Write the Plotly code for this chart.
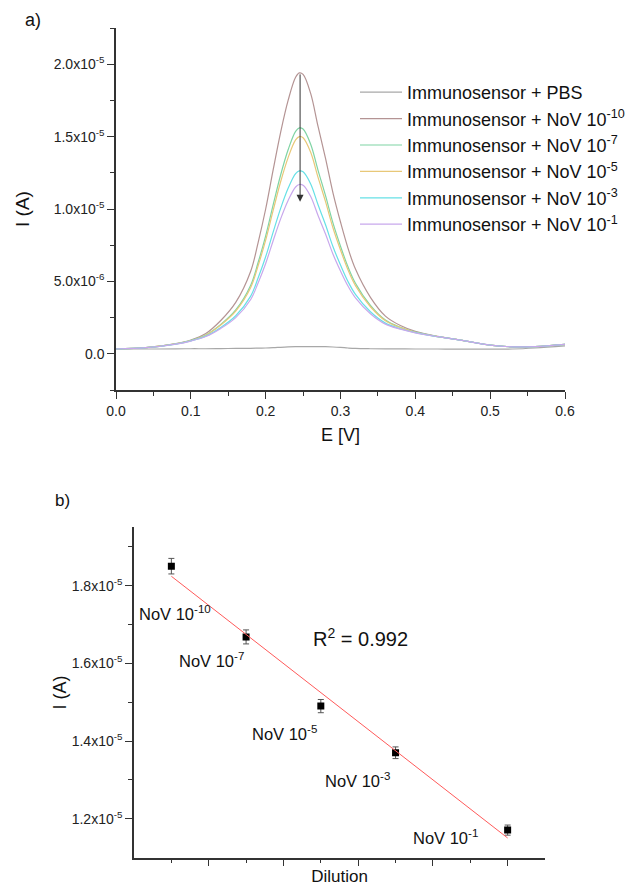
import numpy as np
import plotly.graph_objects as go

# ---------------- data: panel a (current in µA units, scaled to A) ----------------
E_V = [0.00, 0.04, 0.08, 0.10, 0.12, 0.14, 0.16, 0.18, 0.19, 0.20, 0.21, 0.22, 0.23, 0.24, 0.245,
       0.25, 0.26, 0.27, 0.28, 0.29, 0.30, 0.31, 0.32, 0.34, 0.36, 0.38, 0.40, 0.43, 0.46, 0.50,
       0.53, 0.56, 0.60]
pbs = [0.33, 0.33, 0.34, 0.35, 0.35, 0.36, 0.37, 0.38, 0.39, 0.40, 0.42, 0.45, 0.48, 0.50, 0.50,
       0.50, 0.50, 0.50, 0.49, 0.47, 0.44, 0.40, 0.37, 0.35, 0.34, 0.34, 0.33, 0.33, 0.32, 0.32,
       0.33, 0.40, 0.55]
nov_m10 = [0.33, 0.42, 0.70, 0.95, 1.40, 2.30, 3.55, 5.70, 7.70, 10.0, 12.7, 15.3, 17.5, 19.1, 19.4,
           19.3, 18.0, 15.7, 13.5, 11.1, 9.1, 7.3, 5.85, 3.9, 2.6, 1.95, 1.55, 1.20, 0.95, 0.60,
           0.48, 0.50, 0.65]
nov_m7 = [0.33, 0.42, 0.68, 0.92, 1.30, 2.03, 3.03, 4.74, 6.32, 8.15, 10.29, 12.35, 14.09, 15.36, 15.60,
          15.52, 14.49, 12.67, 10.92, 9.02, 7.43, 6.01, 4.87, 3.34, 2.33, 1.83, 1.50, 1.19, 0.95, 0.60,
          0.48, 0.50, 0.65]
nov_m5 = [0.33, 0.42, 0.68, 0.91, 1.28, 1.99, 2.95, 4.58, 6.10, 7.85, 9.90, 11.88, 13.55, 14.77, 15.00,
          14.92, 13.93, 12.18, 10.51, 8.69, 7.17, 5.80, 4.71, 3.25, 2.29, 1.81, 1.49, 1.19, 0.95, 0.60,
          0.48, 0.50, 0.65]
nov_m3 = [0.33, 0.42, 0.67, 0.89, 1.22, 1.82, 2.63, 3.98, 5.25, 6.70, 8.40, 10.04, 11.43, 12.44, 12.63,
          12.57, 11.75, 10.29, 8.91, 7.39, 6.13, 4.99, 4.10, 2.90, 2.12, 1.73, 1.46, 1.18, 0.95, 0.60,
          0.48, 0.50, 0.65]
nov_m1 = [0.33, 0.42, 0.67, 0.88, 1.19, 1.75, 2.50, 3.75, 4.91, 6.24, 7.81, 9.32, 10.59, 11.52, 11.69,
          11.64, 10.88, 9.55, 8.27, 6.88, 5.72, 4.68, 3.86, 2.77, 2.05, 1.70, 1.45, 1.18, 0.95, 0.60,
          0.48, 0.50, 0.65]
series_names = ["Immunosensor + PBS",
                "Immunosensor + NoV 10<sup>-10</sup>",
                "Immunosensor + NoV 10<sup>-7</sup>",
                "Immunosensor + NoV 10<sup>-5</sup>",
                "Immunosensor + NoV 10<sup>-3</sup>",
                "Immunosensor + NoV 10<sup>-1</sup>"]
series_vals = [pbs, nov_m10, nov_m7, nov_m5, nov_m3, nov_m1]
series_colors = ["#a8a8a8", "#b49494", "#7fd4a4", "#e8c878", "#66e0e6", "#c8a8ec"]

ya_tickvals = [0, 5e-6, 1e-5, 1.5e-5, 2e-5]
ya_ticktext = ["0.0", "5.0x10<sup>-6</sup>", "1.0x10<sup>-5</sup>", "1.5x10<sup>-5</sup>", "2.0x10<sup>-5</sup>"]
peak_E = 0.246
arrow_top = 1.94e-5
arrow_tip = 1.05e-5

# ---------------- data: panel b ----------------
dil_labels = ["NoV 10<sup>-10</sup>", "NoV 10<sup>-7</sup>", "NoV 10<sup>-5</sup>",
              "NoV 10<sup>-3</sup>", "NoV 10<sup>-1</sup>"]
dil_x = [1, 3, 5, 7, 10]
dil_I = [1.850e-5, 1.668e-5, 1.490e-5, 1.370e-5, 1.171e-5]
dil_err = [0.020e-5, 0.018e-5, 0.017e-5, 0.015e-5, 0.013e-5]
r2_text = "R<sup>2</sup> = 0.992"
yb_tickvals = [1.2e-5, 1.4e-5, 1.6e-5, 1.8e-5]
yb_ticktext = ["1.2x10<sup>-5</sup>", "1.4x10<sup>-5</sup>", "1.6x10<sup>-5</sup>", "1.8x10<sup>-5</sup>"]

W, H = 635, 886
FONT = "Arial, Liberation Sans, sans-serif"
def px(x):
    return x / W
def py(y):
    return 1 - y / H

fig = go.Figure()
for i, (name, vals, col) in enumerate(zip(series_names, series_vals, series_colors)):
    fig.add_trace(go.Scatter(
        x=E_V, y=np.array(vals) * 1e-6, mode="lines", name=name,
        line=dict(color=col, width=1.2, shape="spline"),
        xaxis="x", yaxis="y"))

# panel b
fig.add_trace(go.Scatter(
    x=dil_x, y=dil_I, mode="markers", showlegend=False,
    marker=dict(symbol="square", size=7, color="black"),
    error_y=dict(type="data", array=dil_err, color="#555", thickness=1, width=3),
    xaxis="x2", yaxis="y2"))
slope, icpt = np.polyfit(dil_x, dil_I, 1)
fx = np.array([dil_x[0], dil_x[-1]])
fig.add_trace(go.Scatter(
    x=fx, y=slope * fx + icpt, mode="lines", showlegend=False,
    line=dict(color="#ff5a5a", width=1),
    xaxis="x2", yaxis="y2"))

axis_common = dict(showline=True, linecolor="#333", linewidth=1.5, showgrid=False,
                   zeroline=False, ticks="outside", tickcolor="#333", tickwidth=1.2,
                   tickfont=dict(family=FONT, size=14, color="#222"))

fig.update_layout(
    width=W, height=H, margin=dict(l=0, r=0, t=0, b=0, autoexpand=False),
    paper_bgcolor="white", plot_bgcolor="white",
    font=dict(family=FONT, color="#111"),
    xaxis=dict(domain=[px(116), px(565)], anchor="y", range=[0, 0.6],
               tickmode="linear", tick0=0, dtick=0.1, ticklen=7, tickformat=".1f",
               minor=dict(dtick=0.05, ticklen=4, ticks="outside", tickcolor="#333"),
               title=dict(text="E [V]", font=dict(size=18), standoff=11), **axis_common),
    yaxis=dict(domain=[py(390), py(28)], anchor="x", range=[-2.5e-6, 2.25e-5],
               tickmode="array", tickvals=ya_tickvals, ticktext=ya_ticktext, ticklen=7,
               minor=dict(tickmode="array", tickvals=[-2.5e-6, 2.5e-6, 7.5e-6, 1.25e-5, 1.75e-5, 2.25e-5],
                          ticklen=4, ticks="outside", tickcolor="#333"),
               title=dict(text="I (A)", font=dict(size=19), standoff=19), **axis_common),
    xaxis2=dict(domain=[px(134), px(545)], anchor="y2", range=[0, 11],
                tickmode="array", tickvals=[2, 4, 6, 8, 10], showticklabels=False, ticklen=7,
                minor=dict(tickmode="array", tickvals=[1, 3, 5, 7, 9], ticklen=4, ticks="outside",
                           tickcolor="#333"),
                title=dict(text="Dilution", font=dict(size=17), standoff=15), **axis_common),
    yaxis2=dict(domain=[py(857.7), py(527.3)], anchor="x2", range=[1.1e-5, 1.95e-5],
                tickmode="array", tickvals=yb_tickvals, ticktext=yb_ticktext, ticklen=7,
                minor=dict(tickmode="array", tickvals=[1.3e-5, 1.5e-5, 1.7e-5, 1.9e-5], ticklen=4,
                           ticks="outside", tickcolor="#333"),
                title=dict(text="I (A)", font=dict(size=18), standoff=0), **axis_common),
    legend=dict(x=px(355), y=py(74), xanchor="left", yanchor="top",
                font=dict(size=18, color="#111"), itemwidth=42, bgcolor="rgba(0,0,0,0)",
                traceorder="normal"),
    showlegend=True,
)

annotations = [
    dict(x=peak_E, y=arrow_tip, ax=peak_E, ay=arrow_top, xref="x", yref="y", axref="x", ayref="y",
         showarrow=True, arrowhead=2, arrowsize=1.4, arrowwidth=1, arrowcolor="#333", text=""),
    dict(x=px(33), y=py(20), xref="paper", yref="paper", text="a)", showarrow=False,
         xanchor="center", yanchor="middle", font=dict(size=18, color="#111")),
    dict(x=px(62), y=py(500), xref="paper", yref="paper", text="b)", showarrow=False,
         xanchor="center", yanchor="middle", font=dict(size=17, color="#111")),
    dict(x=px(360), y=py(637), xref="paper", yref="paper", text=r2_text, showarrow=False,
         xanchor="center", yanchor="middle", font=dict(size=20, color="#111")),
]
label_pos = [(175, 613), (211, 660), (284, 733), (357, 780), (445, 837)]
for lab, (lx, ly) in zip(dil_labels, label_pos):
    annotations.append(dict(x=px(lx), y=py(ly), xref="paper", yref="paper", text=lab,
                            showarrow=False, xanchor="center", yanchor="middle",
                            font=dict(size=16.5, color="#111")))
fig.update_layout(annotations=annotations)

fig.write_html("out.html")
